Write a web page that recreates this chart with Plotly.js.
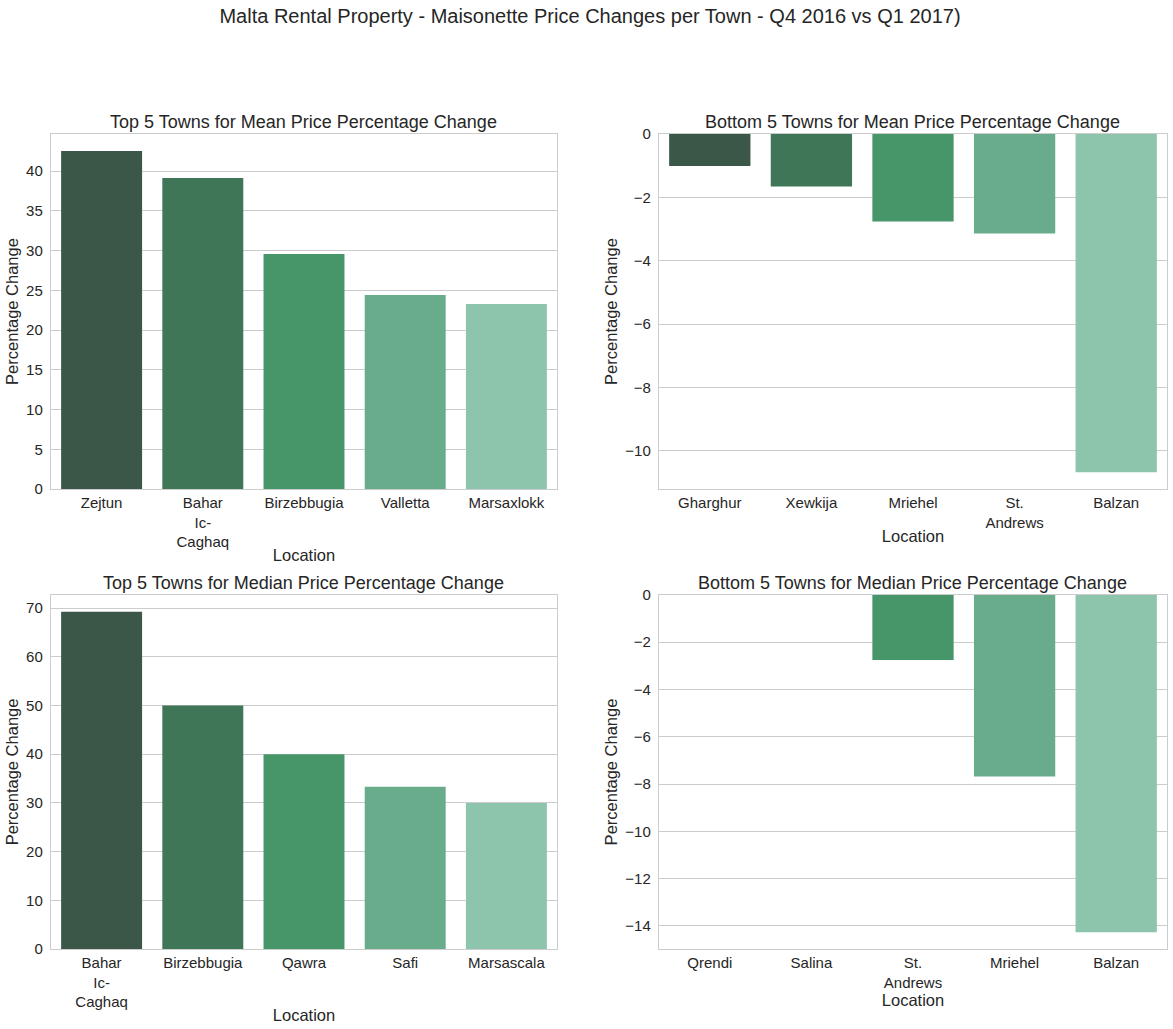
<!DOCTYPE html>
<html>
<head>
<meta charset="utf-8">
<script src="https://cdn.plot.ly/plotly-3.0.1.min.js"></script>
<style>html,body{margin:0;padding:0;background:#fff;}#chart{width:1173px;height:1029px;}</style>
</head>
<body>
<div id="chart"></div>
<script>
// Data
const meanTopTowns = ["Zejtun", "Bahar Ic-Caghaq", "Birzebbugia", "Valletta", "Marsaxlokk"];
const meanTopLabels = ["Zejtun", "Bahar<br>Ic-<br>Caghaq", "Birzebbugia", "Valletta", "Marsaxlokk"];
const meanTopValues = [42.55, 39.15, 29.58, 24.42, 23.29];

const meanBottomTowns = ["Gharghur", "Xewkija", "Mriehel", "St. Andrews", "Balzan"];
const meanBottomLabels = ["Gharghur", "Xewkija", "Mriehel", "St.<br>Andrews", "Balzan"];
const meanBottomValues = [-1.01, -1.66, -2.76, -3.14, -10.68];

const medianTopTowns = ["Bahar Ic-Caghaq", "Birzebbugia", "Qawra", "Safi", "Marsascala"];
const medianTopLabels = ["Bahar<br>Ic-<br>Caghaq", "Birzebbugia", "Qawra", "Safi", "Marsascala"];
const medianTopValues = [69.25, 50.0, 40.0, 33.33, 30.0];

const medianBottomTowns = ["Qrendi", "Salina", "St. Andrews", "Mriehel", "Balzan"];
const medianBottomLabels = ["Qrendi", "Salina", "St.<br>Andrews", "Mriehel", "Balzan"];
const medianBottomValues = [0.0, 0.0, -2.75, -7.68, -14.27];

const palette = ["#3a5748", "#3f7658", "#46966a", "#68ac8c", "#8dc4ac"];

const FONT = "Liberation Sans, Arial, Helvetica, sans-serif";
const TXT = "#262626";

function bar(x, y, xa, ya) {
  return {type: "bar", x: x, y: y, xaxis: xa, yaxis: ya,
    marker: {color: palette, line: {width: 0}}, width: 0.8,
    hoverinfo: "x+y", showlegend: false};
}

const data = [
  bar(meanTopTowns, meanTopValues, "x", "y"),
  bar(meanBottomTowns, meanBottomValues, "x2", "y2"),
  bar(medianTopTowns, medianTopValues, "x3", "y3"),
  bar(medianBottomTowns, medianBottomValues, "x4", "y4")
];

function xaxis(domain, anchor, towns, labels) {
  return {domain: domain, anchor: anchor, type: "category",
    categoryorder: "array", categoryarray: towns,
    tickmode: "array", tickvals: towns, ticktext: labels,
    range: [-0.5, towns.length - 0.5],
    showgrid: false, zeroline: false, showline: true, mirror: true,
    linecolor: "#cccccc", linewidth: 1.25, ticks: "", ticklabelstandoff: 0,
    tickfont: {family: FONT, size: 15, color: TXT},
    title: {text: "Location", font: {family: FONT, size: 16.5, color: TXT}, standoff: 0},
    automargin: false, fixedrange: true};
}
function yaxis(domain, anchor, range, dtick) {
  return {domain: domain, anchor: anchor, range: range, dtick: dtick,
    showgrid: true, gridcolor: "#cccccc", gridwidth: 1,
    zeroline: false, showline: true, mirror: true,
    linecolor: "#cccccc", linewidth: 1.25, ticks: "", ticklabelstandoff: 4,
    tickfont: {family: FONT, size: 15, color: TXT},
    title: {text: "Percentage Change", font: {family: FONT, size: 16.5, color: TXT}, standoff: 3},
    automargin: false, fixedrange: true};
}

const xL = [0, 0.4534], xR = [0.5448, 1];
const yT = [0.5644, 1], yB = [0, 0.4344];

function subTitle(text, xd, yd) {
  return {text: text, xref: "paper", yref: "paper", x: (xd[0] + xd[1]) / 2, y: yd[1],
    xanchor: "center", yanchor: "bottom", yshift: 0, showarrow: false,
    font: {family: FONT, size: 18, color: TXT}};
}

const layout = {
  width: 1173, height: 1029,
  margin: {l: 51, r: 6, t: 134, b: 80},
  paper_bgcolor: "#ffffff", plot_bgcolor: "#ffffff",
  bargap: 0.2,
  title: {text: "Malta Rental Property - Maisonette Price Changes per Town - Q4 2016 vs Q1 2017)",
    x: 0.503, xref: "container", xanchor: "center", y: 0.984, yref: "container", yanchor: "middle",
    font: {family: FONT, size: 20, color: TXT}},
  xaxis: xaxis(xL, "y", meanTopTowns, meanTopLabels),
  yaxis: yaxis(yT, "x", [0, 44.68], 5),
  xaxis2: xaxis(xR, "y2", meanBottomTowns, meanBottomLabels),
  yaxis2: yaxis(yT, "x2", [-11.21, 0], 2),
  xaxis3: xaxis(xL, "y3", medianTopTowns, medianTopLabels),
  yaxis3: yaxis(yB, "x3", [0, 72.71], 10),
  xaxis4: xaxis(xR, "y4", medianBottomTowns, medianBottomLabels),
  yaxis4: yaxis(yB, "x4", [-14.98, 0], 2),
  annotations: [
    subTitle("Top 5 Towns for Mean Price Percentage Change", xL, yT),
    subTitle("Bottom 5 Towns for Mean Price Percentage Change", xR, yT),
    subTitle("Top 5 Towns for Median Price Percentage Change", xL, yB),
    subTitle("Bottom 5 Towns for Median Price Percentage Change", xR, yB)
  ]
};

Plotly.newPlot("chart", data, layout, {displayModeBar: false, staticPlot: true});
</script>
</body>
</html>
